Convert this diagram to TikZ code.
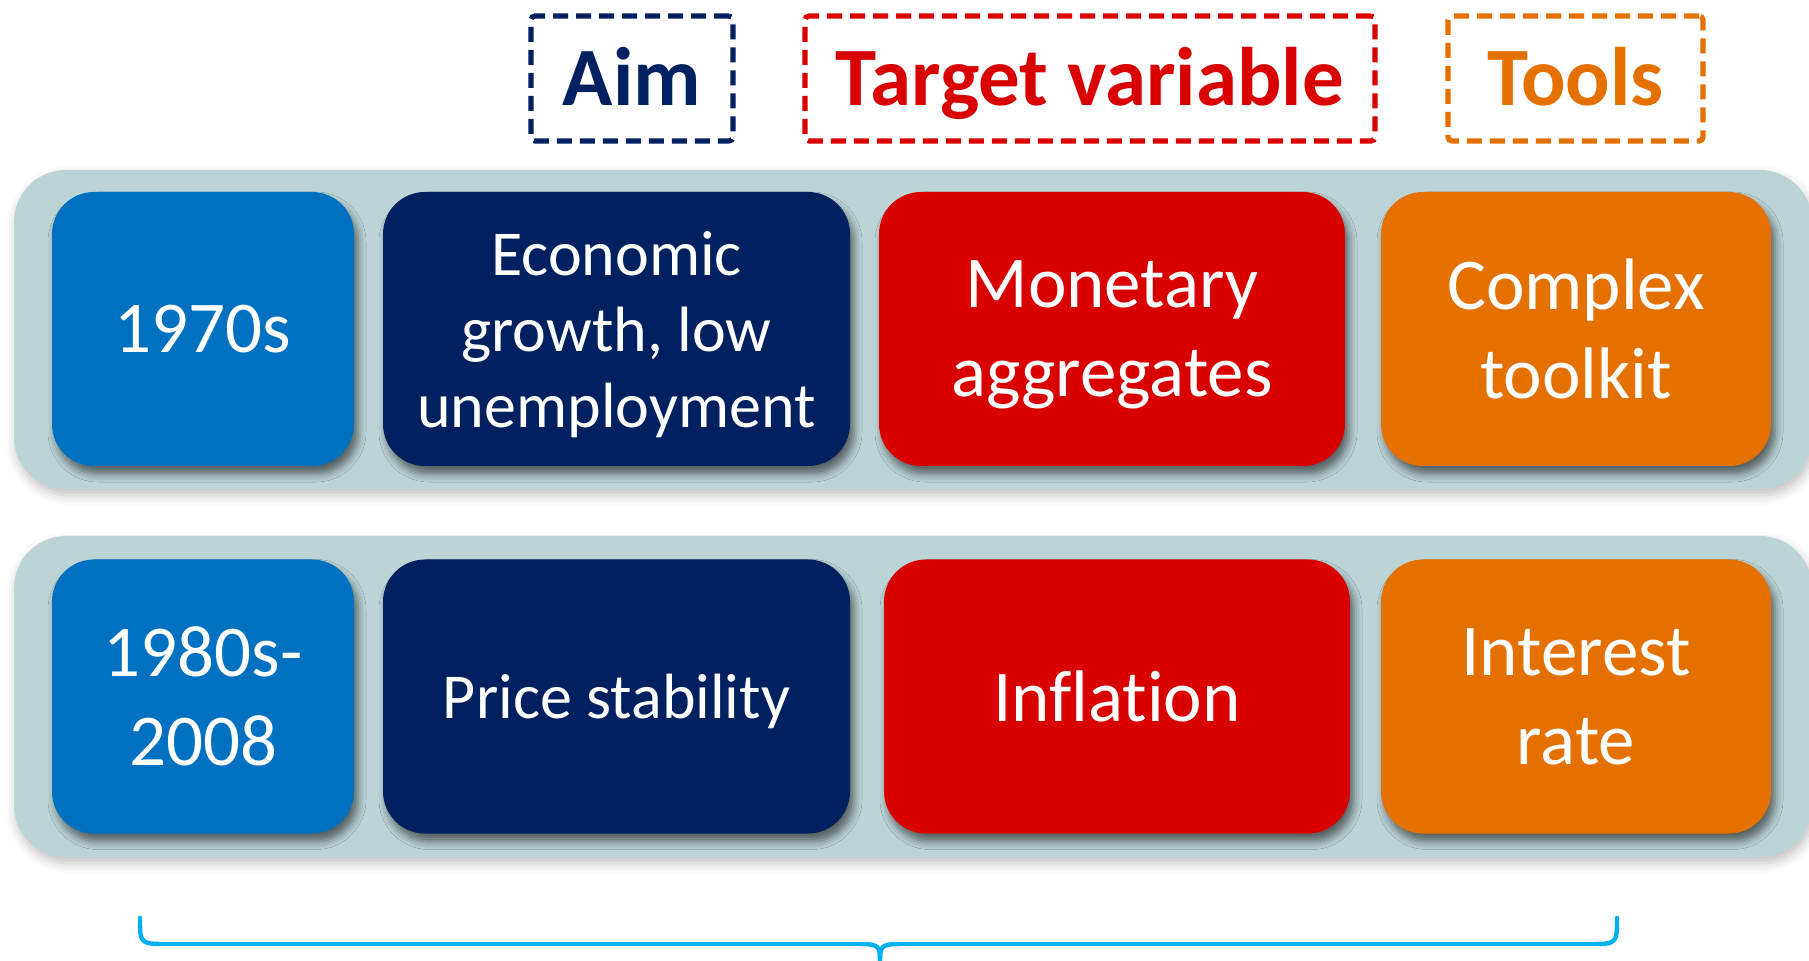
\documentclass[tikz,border=0pt]{standalone}
\usepackage{fontspec}
\setmainfont{Carlito}[Ligatures=NoCommon]
\usetikzlibrary{shadows.blur}

\definecolor{decadeblue}{HTML}{0070C0}
\definecolor{aimnavy}{HTML}{002060}
\definecolor{targetred}{HTML}{D90000}
\definecolor{toolorange}{HTML}{E47000}
\definecolor{bandgrey}{HTML}{BCD4D6}
\definecolor{bracecyan}{HTML}{00B0F0}

\tikzset{
  band/.style={fill=bandgrey, rounded corners=26pt,
    blur shadow={shadow xshift=1pt, shadow yshift=-3pt, shadow blur radius=5pt, shadow opacity=25}},
  cell/.style={rounded corners=21pt, text=white, align=center,
    minimum height=137pt, inner sep=0pt, text depth=0pt,
    font=\fontsize{36.5}{44.5}\selectfont,
    blur shadow={shadow xshift=2pt, shadow yshift=-4pt, shadow blur radius=4pt, shadow opacity=55}},
  smalltext/.style={font=\fontsize{32}{38}\selectfont},
  header/.style={dash pattern=on 7.5pt off 4pt, line width=2.6pt, rounded corners=2pt,
    minimum height=62.5pt, inner sep=0pt, text height=27pt, text depth=0pt,
    font=\fontsize{41.5}{50}\selectfont\bfseries},
  brace/.style={draw=bracecyan, line width=2.2pt, line cap=round, line join=round}
}

\begin{document}
\begin{tikzpicture}[x=0.5pt, y=-0.5pt]
  \useasboundingbox (0,0) rectangle (1809,961);

  % column headings
  \node[header, draw=aimnavy, text=aimnavy, minimum width=101pt] (aim) at (632,78.5) {Aim};
  \node[header, draw=targetred, text=targetred, minimum width=285pt] (target) at (1090,78.5) {Target variable};
  \node[header, draw=toolorange, text=toolorange, minimum width=127.5pt] (tools) at (1575.5,78.5) {Tools};

  % background bands for the two periods
  \path[band] (14,170) rectangle (1812,489);
  \path[band] (14,536) rectangle (1812,857);

  % first period
  \node[cell, fill=decadeblue, minimum width=151pt] (p1) at (203,329) {1970s};
  \node[cell, smalltext, fill=aimnavy, minimum width=233.5pt] (a1) at (616.5,329) {Economic\\growth, low\\unemployment};
  \node[cell, fill=targetred, minimum width=233pt] (t1) at (1112,329) {Monetary\\aggregates};
  \node[cell, fill=toolorange, minimum width=195pt] (k1) at (1576,329) {Complex\\toolkit};

  % second period
  \node[cell, fill=decadeblue, minimum width=151pt] (p2) at (203,696.5) {1980s-\\2008};
  \node[cell, smalltext, fill=aimnavy, minimum width=233.5pt] (a2) at (616.5,696.5) {Price stability};
  \node[cell, fill=targetred, minimum width=233pt] (t2) at (1117,696.5) {Inflation};
  \node[cell, fill=toolorange, minimum width=195pt] (k2) at (1576,696.5) {Interest\\rate};

  % brace under both rows
  \coordinate (bl) at (140,918);
  \coordinate (br) at (1617,918);
  \coordinate (btip) at (880,964);
  \draw[brace] (bl) .. controls (140,944) .. (168,944) -- (852,944)
    .. controls (880,944) .. (btip);
  \draw[brace] (btip) .. controls (880,944) .. (908,944) -- (1589,944)
    .. controls (1617,944) .. (br);
\end{tikzpicture}
\end{document}
